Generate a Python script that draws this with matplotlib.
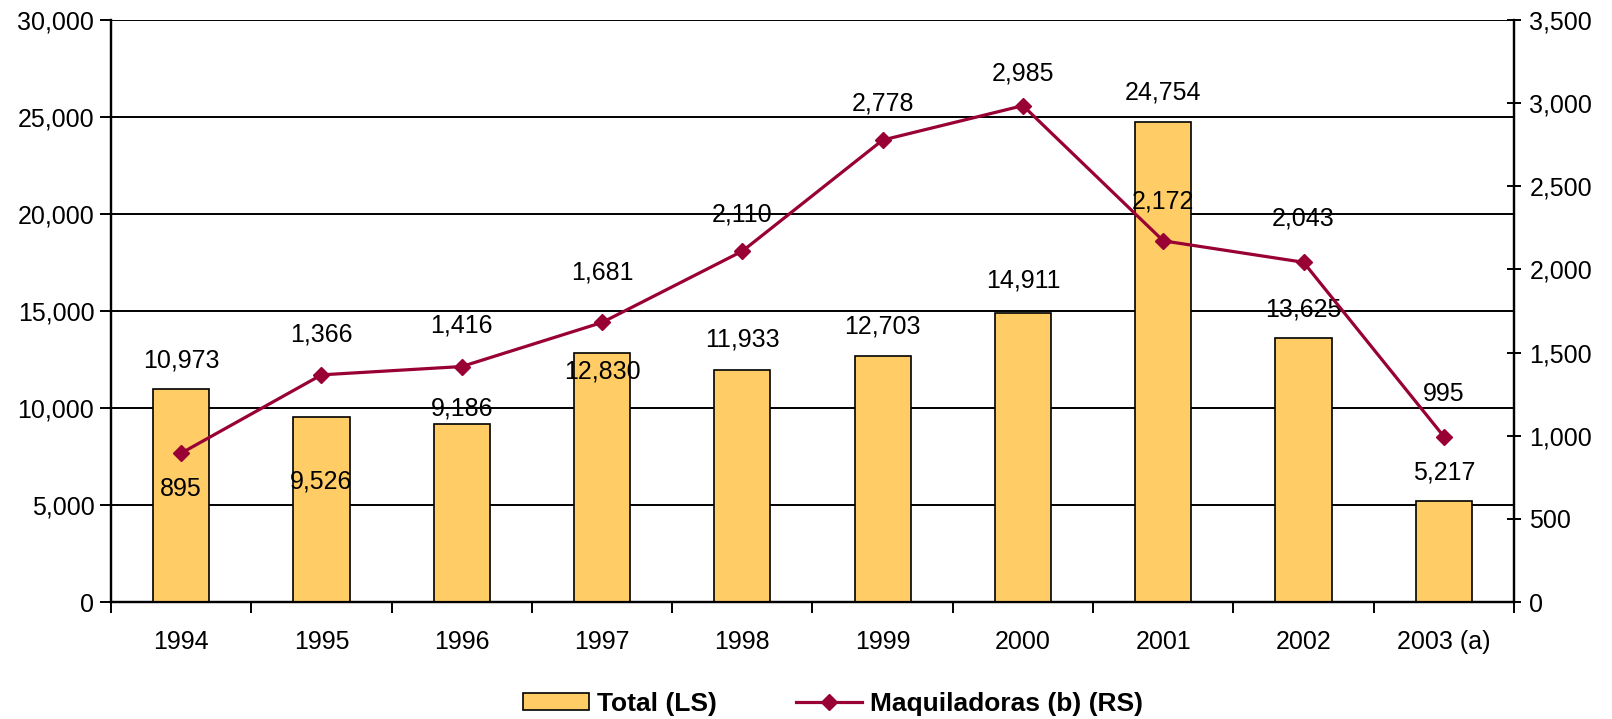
import matplotlib
matplotlib.use("Agg")
import matplotlib.pyplot as plt
from matplotlib.ticker import FuncFormatter, FixedLocator
import numpy as np

plt.rcParams['font.family'] = ['Liberation Sans', 'DejaVu Sans']

years = ["1994", "1995", "1996", "1997", "1998", "1999", "2000", "2001", "2002", "2003 (a)"]
total = [10973, 9526, 9186, 12830, 11933, 12703, 14911, 24754, 13625, 5217]
maquila = [895, 1366, 1416, 1681, 2110, 2778, 2985, 2172, 2043, 995]

# label offsets in pixels (label centre relative to mark top / point)
bar_lab_dy = [29, -64, 15, -18, 31, 29, 32, 29.5, 28.5, 28]
line_lab_dy = [-36, 40, 41, 50, 37, 37, 32, 39.5, 44, 42.5]

BAR = '#FFCC66'
LINE = '#990033'
FS = 18

fig = plt.figure(figsize=(16.12, 7.19), dpi=100)
ax = fig.add_axes([111/1612, 1-602/719, (1514-111)/1612, (602-20)/719])
ax2 = ax.twinx()

x = np.arange(len(years))
ax.bar(x, total, width=0.4, color=BAR, edgecolor='black', linewidth=1.2, zorder=3,
       label='Total (LS)')
ax.set_ylim(0, 30000)
ax.set_xlim(-0.5, len(years) - 0.5)
ax.set_yticks(np.arange(0, 30001, 5000))
fmt = FuncFormatter(lambda v, p: f"{int(v):,}")
ax.yaxis.set_major_formatter(fmt)
ax.yaxis.grid(True, color='black', linewidth=1.4, zorder=0)
ax.set_axisbelow(True)

ax.set_xticks(x)
ax.set_xticklabels(years, fontsize=FS)
ax.xaxis.set_major_locator(FixedLocator(list(x)))
ax.set_xticks(np.arange(-0.5, len(years), 1), minor=True)
ax.tick_params(axis='x', which='major', length=0, pad=20)
ax.tick_params(axis='x', which='minor', length=8, width=1.4, direction='out')
ax.tick_params(axis='y', labelsize=FS, length=8, width=1.4, direction='out', pad=4)

ax2.plot(x, maquila, color=LINE, linewidth=2.3, marker='D', markersize=8.5,
         zorder=5, label='Maquiladoras (b) (RS)')
ax2.set_ylim(0, 3500)
ax2.set_yticks(np.arange(0, 3501, 500))
ax2.yaxis.set_major_formatter(fmt)
ax2.tick_params(axis='y', labelsize=FS, length=10, width=1.4, direction='inout', pad=6)

for sp in ['left', 'bottom', 'right']:
    ax.spines[sp].set_linewidth(1.6)
    ax2.spines[sp].set_linewidth(1.6)
ax.spines['top'].set_visible(False)
ax2.spines['top'].set_visible(False)

pt = 72 / 100.0
for i, v in enumerate(total):
    ax.annotate(f"{v:,}", (x[i], v), xytext=(0, bar_lab_dy[i] * pt),
                textcoords='offset points', ha='center', va='center', fontsize=FS, zorder=6)
for i, v in enumerate(maquila):
    ax2.annotate(f"{v:,}", (x[i], v), xytext=(0, line_lab_dy[i] * pt),
                 textcoords='offset points', ha='center', va='center', fontsize=FS, zorder=6)

h1, l1 = ax.get_legend_handles_labels()
h2, l2 = ax2.get_legend_handles_labels()
leg = fig.legend(h1 + h2, l1 + l2, loc='center', bbox_to_anchor=(833/1612, 1-704/719),
                 ncol=2, frameon=False, prop={'size': FS + 1, 'weight': 'bold'},
                 columnspacing=3.0, handlelength=2.5, handleheight=0.6, handletextpad=0.3)

fig.savefig('out.png', dpi=100)
